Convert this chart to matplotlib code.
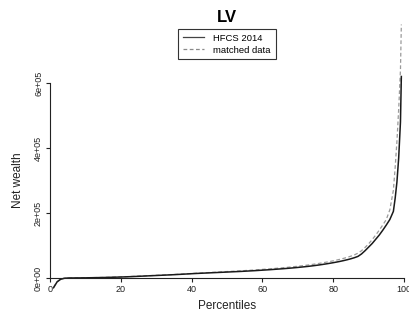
import matplotlib
matplotlib.use("Agg")
import matplotlib.pyplot as plt
from matplotlib.lines import Line2D

plt.rcParams['font.family'] = ['Liberation Sans', 'DejaVu Sans']

title = "LV"
x_label = "Percentiles"
y_label = "Net wealth"
series_names = ["HFCS 2014", "matched data"]
x_ticks = [0, 20, 40, 60, 80, 100]
y_ticks = [0, 200000, 400000, 600000]
y_tick_labels = ["0e+00", "2e+05", "4e+05", "6e+05"]

percentiles = list(range(1, 98)) + [97.5, 98, 98.5, 99, 99.25]

hfcs = [-30000, -12000, -4000, -1000, 0, 100, 200, 300, 400, 500,
        700, 900, 1100, 1300, 1500, 1800, 2100, 2400, 2700, 3000,
        3400, 3800, 4200, 4700, 5200, 5700, 6200, 6700, 7200, 7700,
        8200, 8700, 9200, 9700, 10200, 10800, 11400, 12000, 12600, 13200,
        13800, 14300, 14800, 15300, 15800, 16300, 16800, 17300, 17800, 18300,
        18800, 19300, 19800, 20300, 20900, 21500, 22100, 22700, 23400, 24100,
        24800, 25500, 26300, 27100, 27900, 28700, 29600, 30500, 31500, 32500,
        33600, 34700, 35900, 37200, 38600, 40100, 41700, 43400, 45200, 47100,
        49100, 51300, 53700, 56300, 59200, 62500, 66500, 74000, 84000, 95000,
        106000, 119000, 132000, 147000, 163000, 180000, 205000,
        245000, 295000, 370000, 480000, 620000]

matched = [-28000, -11000, -3500, -800, 0, 150, 300, 450, 600, 750,
           950, 1150, 1350, 1600, 1850, 2150, 2450, 2800, 3150, 3500,
           3900, 4300, 4800, 5300, 5800, 6300, 6800, 7300, 7800, 8300,
           8800, 9300, 9800, 10300, 10800, 11400, 12000, 12600, 13200, 13800,
           14400, 15000, 15600, 16200, 16800, 17400, 18000, 18600, 19200, 19800,
           20400, 21000, 21600, 22200, 22800, 23500, 24200, 24900, 25700, 26500,
           27300, 28100, 29000, 29900, 30800, 31800, 32800, 33900, 35000, 36200,
           37400, 38700, 40100, 41600, 43200, 44900, 46700, 48600, 50600, 52800,
           55200, 57800, 60600, 63700, 67200, 71200, 76500, 84000, 94000, 105000,
           118000, 132000, 147000, 163000, 180000, 210000, 270000,
           340000, 420000, 520000, 640000, 780000]

W, H = 410, 320
fig = plt.figure(figsize=(W / 100, H / 100), dpi=100)
ax = fig.add_axes([50 / W, (H - 278) / H, 354 / W, 195 / H])
ax.set_xlim(0, 100)
ax.set_ylim(0, 600000)

ax.plot(percentiles, matched, color="#9a9a9a", lw=0.9, ls=(0, (3, 2)), clip_on=False)
ax.plot(percentiles, hfcs, color="#1a1a1a", lw=1.1, clip_on=False)

for s in ["top", "right"]:
    ax.spines[s].set_visible(False)
for s in ["left", "bottom"]:
    ax.spines[s].set_linewidth(0.8)
    ax.spines[s].set_color("#222222")

ax.set_xticks(x_ticks)
ax.set_xticklabels([str(t) for t in x_ticks])
ax.set_yticks(y_ticks)
ax.set_yticklabels(y_tick_labels, rotation=90, va="center")
ax.tick_params(axis="both", length=3, width=0.8, colors="#222222", labelsize=6.5, labelcolor="#222222")
ax.tick_params(axis="x", pad=2)
ax.tick_params(axis="y", pad=2)

fig.text(227 / W, 1 - 17 / H, title, ha="center", va="center", fontsize=12, fontweight="bold")
fig.text(227 / W, 1 - 306 / H, x_label, ha="center", va="center", fontsize=8.5, color="#222222")
fig.text(18 / W, 1 - 180 / H, y_label, ha="center", va="center", rotation=90, fontsize=8.5, color="#222222")

handles = [Line2D([], [], color="#444444", lw=0.9),
           Line2D([], [], color="#8a8a8a", lw=0.9, ls=(0, (3, 2)))]
leg = fig.legend(handles, series_names, loc="upper center",
                 bbox_to_anchor=(227 / W, 1 - 29 / H), fontsize=6.8,
                 frameon=True, fancybox=False, framealpha=1,
                 edgecolor="#333333", handlelength=2.2, handletextpad=1.0,
                 borderpad=0.5, labelspacing=0.3, borderaxespad=0)
leg.get_frame().set_linewidth(0.8)

fig.savefig("out.png", dpi=100)
